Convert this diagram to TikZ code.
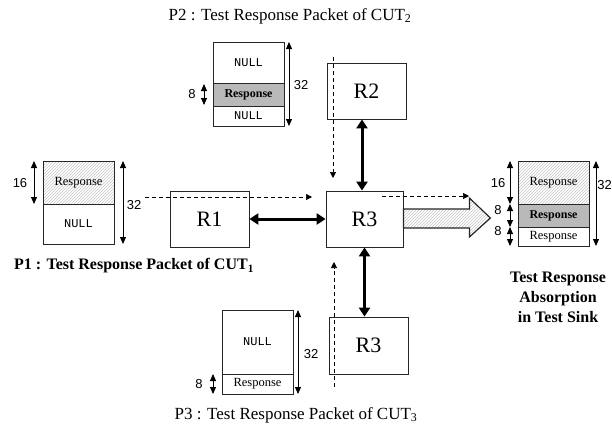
\documentclass[tikz,border=0pt]{standalone}
\usepackage{fontspec}
\setmainfont{Liberation Serif}
\newfontfamily\numsf{Liberation Sans}
\newfontfamily\nulltt{Liberation Mono}
\usetikzlibrary{arrows.meta,patterns}

\tikzset{
	router/.style={draw=black!85, line width=0.8pt, minimum width=79pt, minimum height=56pt, inner sep=0pt, font=\fontsize{22}{22}\selectfont},
	link/.style={line width=3pt, {Triangle[length=9pt,width=11pt]}-{Triangle[length=9pt,width=11pt]}},
	flow/.style={line width=0.7pt, dash pattern=on 4pt off 3pt, -{Triangle[length=6pt,width=6pt]}},
	size/.style={line width=0.9pt, {Triangle[length=7pt,width=6pt]}-{Triangle[length=7pt,width=6pt]}},
	seg/.style={draw=black!85, line width=0.8pt},
	hatch/.style={pattern=north east lines, pattern color=gray!45},
	grey/.style={fill=gray!55},
	null/.style={font=\nulltt\fontsize{12}{12}\selectfont},
	resp/.style={font=\fontsize{12.5}{12.5}\selectfont},
	num/.style={font=\numsf\fontsize{13}{13}\selectfont},
	title/.style={font=\fontsize{17}{17}\selectfont}
}

\begin{document}
\begin{tikzpicture}[x=1pt,y=-1pt]
	\useasboundingbox (0,0) rectangle (612,431);
	% routers
	\node[router] (R1) at (209.5,219) {R1};
	\node[router, minimum width=77pt] (R3) at (364.5,219) {R3};
	\node[router] (R2) at (366.5,91) {R2};
	\node[router, minimum height=57pt] (R3b) at (368.5,345.5) {R3};
	% links
	\draw [link] (R1) -- (R3);
	\draw [link] ([xshift=-4.5pt]R2.south) -- ([xshift=-4.5pt]R2.south |- R3.north);
	\draw [link] (R3.south) -- (R3.south |- R3b.north);
	% packet flows
	\coordinate (f1a) at (145,197);
	\coordinate (f1b) at (312,197);
	\coordinate (f2a) at (333,57);
	\coordinate (f2b) at (333,178);
	\coordinate (f3a) at (334,387);
	\coordinate (f3b) at (334,262);
	\coordinate (f4a) at (382,196);
	\coordinate (f4b) at (469,196);
	\draw [flow] (f1a) -- (f1b);
	\draw [flow] (f2a) -- (f2b);
	\draw [flow] (f3a) -- (f3b);
	\draw [flow] (f4a) -- (f4b);
	% sink arrow
	\begin{scope}[shift={(R3.east)}]
		\draw [seg, hatch, line width=1.2pt] (0,-10) -- (66,-10) -- (66,-21) -- (87,-1) -- (66,18) -- (66,9) -- (0,9) -- cycle;
	\end{scope}
	% P2 packet
	\begin{scope}[shift={(213,42)}]
		\draw [seg] (0,0) rectangle (71,41);
		\draw [seg, grey] (0,41) rectangle (71,64);
		\draw [seg] (0,64) rectangle (71,84);
		\node[null] (p2n1) at (35.5,21) {NULL};
		\node[resp, font=\bfseries\fontsize{12}{12}\selectfont] (p2r) at (35.5,52.5) {Response};
		\node[null] (p2n2) at (35.5,74) {NULL};
		\draw [size] (76,0) -- (76,84);
		\node[num] (p2l32) at (88,43) {32};
		\draw [size] (-9,42) -- (-9,63);
		\node[num] (p2l8) at (-21,52) {8};
	\end{scope}
	% P1 packet
	\begin{scope}[shift={(43,161)}]
		\draw [seg, hatch] (0,0) rectangle (71,43);
		\draw [seg] (0,43) rectangle (71,83);
		\node[resp] (p1r) at (35.5,21.5) {Response};
		\node[null] (p1n) at (35.5,63) {NULL};
		\draw [size] (-9,0) -- (-9,43);
		\node[num] (p1l16) at (-23,22) {16};
		\draw [size] (80,0) -- (80,83);
		\node[num] (p1l32) at (91,44) {32};
	\end{scope}
	% sink packet
	\begin{scope}[shift={(518,161)}]
		\draw [seg, hatch] (0,0) rectangle (71,43);
		\draw [seg, grey] (0,43) rectangle (71,66);
		\draw [seg] (0,66) rectangle (71,85);
		\node[resp] (skr1) at (35.5,21.5) {Response};
		\node[resp, font=\bfseries\fontsize{12}{12}\selectfont] (skr2) at (35.5,54.5) {Response};
		\node[resp] (skr3) at (35.5,75.5) {Response};
		\draw [size] (-8,0) -- (-8,43);
		\draw [size] (-8,43) -- (-8,66);
		\draw [size] (-8,66) -- (-8,85);
		\node[num] (skl16) at (-20,22) {16};
		\node[num] (skl8a) at (-20,49) {8};
		\node[num] (skl8b) at (-20,70) {8};
		\draw [size] (78,0) -- (78,85);
		\node[num, inner sep=0pt, anchor=east] (skl32) at (94,24) {32};
	\end{scope}
	% P3 packet
	\begin{scope}[shift={(222,310)}]
		\draw [seg] (0,0) rectangle (71,64);
		\draw [seg] (0,64) rectangle (71,84);
		\node[null] (p3n) at (35.5,32) {NULL};
		\node[resp] (p3r) at (35.5,74) {Response};
		\draw [size] (76,0) -- (76,84);
		\node[num] (p3l32) at (89,44) {32};
		\draw [size] (-9,64) -- (-9,84);
		\node[num] (p3l8) at (-23,74) {8};
	\end{scope}
	% captions
	\node[title] (t2) at (290,16) {P2 : Test Response Packet of CUT\textsubscript{2}};
	\node[title, font=\bfseries\fontsize{16}{16}\selectfont] (t1) at (134,266) {P1 : Test Response Packet of CUT\textsubscript{1}};
	\node[title] (t3) at (296,415) {P3 : Test Response Packet of CUT\textsubscript{3}};
	\node[title, font=\bfseries\fontsize{16}{20}\selectfont, align=center] (tsink) at (558,297) {Test Response\\Absorption\\in Test Sink};
\end{tikzpicture}
\end{document}
